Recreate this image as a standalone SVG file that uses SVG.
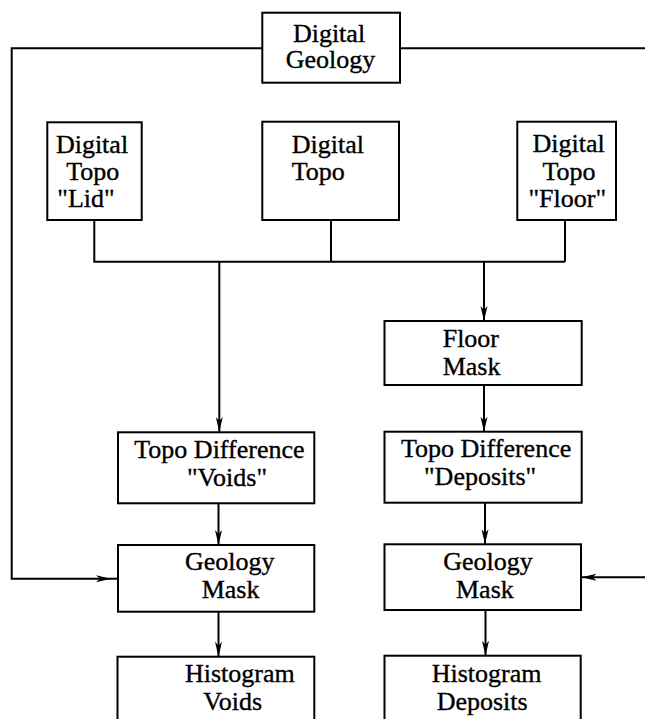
<svg xmlns="http://www.w3.org/2000/svg" width="645" height="719" viewBox="0 0 645 719">
<style>
  .box { fill: #fff; stroke: #000; stroke-width: 2; }
  .t { font-family: "Liberation Serif", "Times New Roman", Times, serif; font-size: 26px; fill: #000; stroke: #000; stroke-width: 0.35px; }
  .c { text-anchor: middle; }
  .ln { fill: none; stroke: #000; stroke-width: 2; }
</style>
<defs>
  <marker id="arr" markerUnits="userSpaceOnUse" markerWidth="16" markerHeight="10" viewBox="-15 -5 16 10" refX="0" refY="0" orient="auto">
    <path d="M0,0 L-15,-3.5 L-11,0 L-15,3.5 z" fill="#000"/>
  </marker>
</defs>
<rect width="645" height="719" fill="#fff"/>
<g id="connectors">
  <path class="ln" d="M262.3,48.3 H11.7 V578.7 H111" marker-end="url(#arr)"/>
  <path class="ln" d="M111,578.7 H118"/>
  <path class="ln" d="M400,48.3 H646"/>
  <path class="ln" d="M646,577.3 H581.5" marker-end="url(#arr)"/>
  <path class="ln" d="M94.3,220 V261.7 H565 M331,220 V261.7 M565,220 V261.7"/>
  <path class="ln" d="M219.3,261.7 V432" marker-end="url(#arr)"/>
  <path class="ln" d="M484,261.7 V321" marker-end="url(#arr)"/>
  <path class="ln" d="M484,385 V431.7" marker-end="url(#arr)"/>
  <path class="ln" d="M218.5,503.3 V545" marker-end="url(#arr)"/>
  <path class="ln" d="M485,502.7 V544.3" marker-end="url(#arr)"/>
  <path class="ln" d="M218.5,611.7 V656.7" marker-end="url(#arr)"/>
  <path class="ln" d="M485.5,610 V655.7" marker-end="url(#arr)"/>
</g>
<g id="digital-geology">
  <rect class="box" x="262.3" y="12.7" width="137.7" height="70"/>
  <text class="t c" x="329" y="41.7">Digital</text>
  <text class="t c" x="330.5" y="68.3">Geology</text>
</g>
<g id="topo-lid">
  <rect class="box" x="47.3" y="122.3" width="94.4" height="97.7"/>
  <text class="t c" x="92" y="153">Digital</text>
  <text class="t c" x="92.8" y="180">Topo</text>
  <text class="t c" x="86" y="206.7">"Lid"</text>
</g>
<g id="topo">
  <rect class="box" x="262.3" y="121.7" width="136.7" height="98.3"/>
  <text class="t" x="291.7" y="153">Digital</text>
  <text class="t" x="291.7" y="180">Topo</text>
</g>
<g id="topo-floor">
  <rect class="box" x="517.3" y="121.7" width="98.7" height="98.3"/>
  <text class="t c" x="568.7" y="152">Digital</text>
  <text class="t c" x="569" y="180">Topo</text>
  <text class="t c" x="567.3" y="206.7">"Floor"</text>
</g>
<g id="floor-mask">
  <rect class="box" x="384.5" y="321" width="197.2" height="64"/>
  <text class="t" x="442.7" y="347.3">Floor</text>
  <text class="t" x="442.7" y="375">Mask</text>
</g>
<g id="topo-diff-voids">
  <rect class="box" x="118" y="432.3" width="196.3" height="71"/>
  <text class="t" x="134.3" y="458.3">Topo Difference</text>
  <text class="t" x="187" y="485.5">"Voids"</text>
</g>
<g id="topo-diff-deposits">
  <rect class="box" x="384.5" y="431.7" width="197.2" height="71"/>
  <text class="t" x="401" y="456.7">Topo Difference</text>
  <text class="t" x="424" y="485">"Deposits"</text>
</g>
<g id="geology-mask-voids">
  <rect class="box" x="118" y="545" width="196.3" height="66.7"/>
  <text class="t" x="185" y="570">Geology</text>
  <text class="t" x="201.7" y="598.3">Mask</text>
</g>
<g id="geology-mask-deposits">
  <rect class="box" x="384.5" y="544.3" width="196.5" height="65.7"/>
  <text class="t" x="443.3" y="570">Geology</text>
  <text class="t" x="456" y="598">Mask</text>
</g>
<g id="histogram-voids">
  <rect class="box" x="117.5" y="656.7" width="196.8" height="80"/>
  <text class="t" x="185" y="681.7">Histogram</text>
  <text class="t" x="203.3" y="710">Voids</text>
</g>
<g id="histogram-deposits">
  <rect class="box" x="384.5" y="655.7" width="196.2" height="80"/>
  <text class="t" x="431.7" y="681.7">Histogram</text>
  <text class="t" x="436.7" y="710">Deposits</text>
</g>
</svg>
